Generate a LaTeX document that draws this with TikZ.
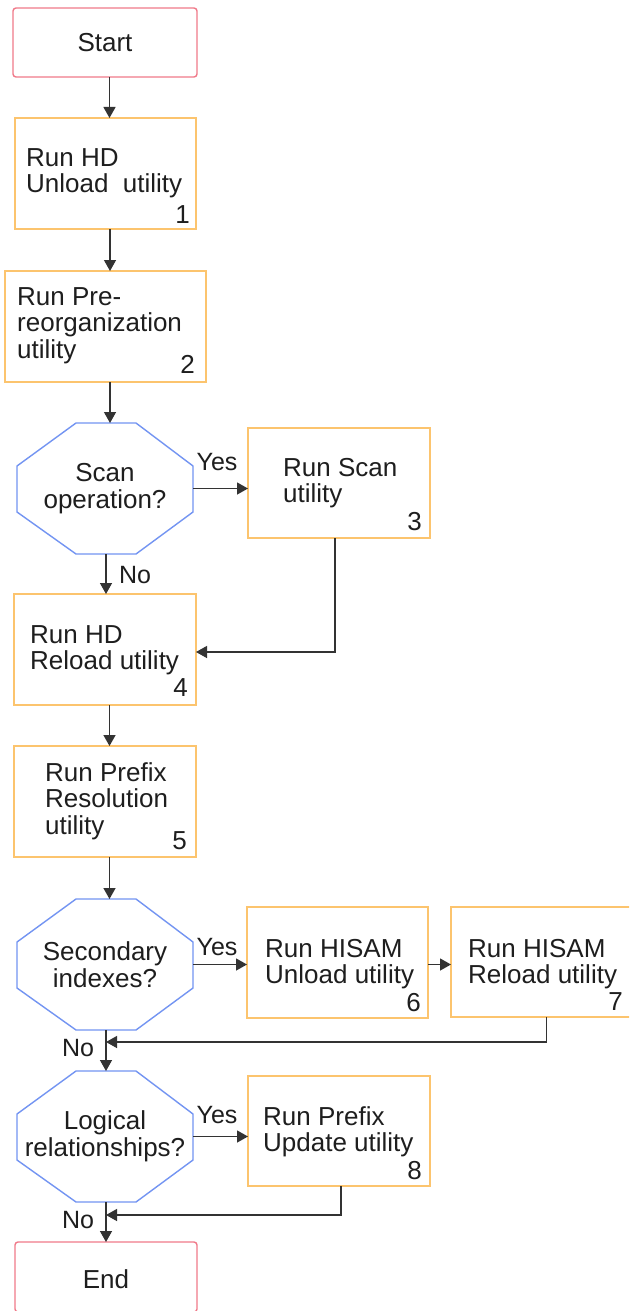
\documentclass[tikz,border=0pt]{standalone}
\usepackage{fontspec}
\setmainfont{Liberation Sans}
\usetikzlibrary{calc,arrows.meta}
\definecolor{termred}{HTML}{F07A8A}
\definecolor{procorange}{HTML}{FCC46E}
\definecolor{decblue}{HTML}{7394F2}
\definecolor{linegray}{HTML}{333333}
\definecolor{txtcol}{HTML}{1E1E1E}
\newcommand{\txtlines}[1]{\begin{tabular}[t]{@{}l@{}}#1\end{tabular}}
\newcommand{\octagonof}[1]{%
  \draw[decline] ($(#1.north west)+(59,0)$) -- ($(#1.north east)+(-57,0)$)
    -- ($(#1.north east)+(0,43)$) -- ($(#1.south east)+(0,-42)$)
    -- ($(#1.south east)+(-57,0)$) -- ($(#1.south west)+(59,0)$)
    -- ($(#1.south west)+(0,-42)$) -- ($(#1.north west)+(0,43)$) -- cycle;}
\begin{document}
\begin{tikzpicture}[x=1pt,y=-1pt,
  every node/.style={font=\fontsize{26}{26.5}\selectfont, text=txtcol},
  term/.style={draw=termred, line width=1.4pt, rounded corners=3pt, inner sep=0pt, outer sep=0pt, anchor=north west},
  proc/.style={draw=procorange, line width=1.4pt, inner sep=0pt, outer sep=0pt, anchor=north west},
  decnode/.style={inner sep=0pt, outer sep=0pt, anchor=north west, minimum width=176pt, minimum height=131pt, align=center},
  decline/.style={draw=decblue, line width=1.4pt},
  txt/.style={anchor=base west, inner sep=0pt},
  num/.style={anchor=base east, inner sep=0pt},
  lbl/.style={inner sep=0pt, font=\fontsize{25}{26}\selectfont},
  conn/.style={draw=linegray, line width=1.3pt, -{Triangle[length=11pt,width=12pt]}},
  plain/.style={draw=linegray, line width=1.3pt}]
\clip (0,0) rectangle (629,1311);
\fill[white] (0,0) rectangle (629,1311);

% terminals
\node[term, minimum width=184pt, minimum height=69pt] (start) at (13,8) {};
\node at (start.center) {Start};
\node[term, minimum width=182pt, minimum height=70pt] (end) at (15,1242) {};
\node at ([yshift=-2pt]end.center) {End};

% process boxes
\node[proc, minimum width=181pt, minimum height=111pt] (b1) at (15,118) {};
\node[txt] at (26,166) {\txtlines{Run HD\\Unload\ \ utility}};
\node[num] at (190,223) {1};

\node[proc, minimum width=201pt, minimum height=111pt] (b2) at (5,271) {};
\node[txt] at (17,305) {\txtlines{Run Pre-\\reorganization\\utility}};
\node[num] at (195,373) {2};

\node[proc, minimum width=182pt, minimum height=110pt] (b3) at (248,428) {};
\node[txt] at (283,476) {\txtlines{Run Scan\\utility}};
\node[num] at (422,530) {3};

\node[proc, minimum width=182pt, minimum height=111pt] (b4) at (14,594) {};
\node[txt] at (30,643) {\txtlines{Run HD\\Reload utility}};
\node[num] at (188,696) {4};

\node[proc, minimum width=182pt, minimum height=111pt] (b5) at (14,746) {};
\node[txt] at (45,781) {\txtlines{Run Prefix\\Resolution\\utility}};
\node[num] at (187,849) {5};

\node[proc, minimum width=181pt, minimum height=111pt] (b6) at (247,907) {};
\node[txt] at (265,957) {\txtlines{Run HISAM\\Unload utility}};
\node[num] at (421,1011) {6};

\node[proc, minimum width=181pt, minimum height=110pt] (b7) at (451,907) {};
\node[txt] at (468,957) {\txtlines{Run HISAM\\Reload utility}};
\node[num] at (623,1010) {7};

\node[proc, minimum width=182pt, minimum height=110pt] (b8) at (248,1076) {};
\node[txt] at (263,1125) {\txtlines{Run Prefix\\Update utility}};
\node[num] at (422,1179) {8};

% decisions
\node[decnode] (scan) at (17,423) {Scan\\operation?};
\octagonof{scan}
\node[decnode] (sec) at (17,899) {Secondary\\indexes?};
\octagonof{sec}
\node[decnode] (log) at (17,1071) {Logical\\relationships?};
\octagonof{log}

% merge points
\coordinate (m1) at (106,1042);
\coordinate (m2) at (106,1215);

% connectors
\draw[conn] ([xshift=4.5pt]start.south) -- ([xshift=4.5pt]start.south |- b1.north);
\draw[conn] ([xshift=4.5pt]b1.south) -- ([xshift=4.5pt]b1.south |- b2.north);
\draw[conn] ([xshift=4.5pt]b2.south) -- ([xshift=4.5pt]b2.south |- scan.north);
\draw[conn] ([xshift=1pt]scan.south) -- ([xshift=1pt]scan.south |- b4.north);
\draw[conn] (scan.east) -- (scan.east -| b3.west);
\draw[conn] ([xshift=-4pt]b3.south) |- ([yshift=-2.5pt]b4.east);
\draw[conn] ([xshift=4.5pt]b4.south) -- ([xshift=4.5pt]b4.south |- b5.north);
\draw[conn] ([xshift=4.5pt]b5.south) -- ([xshift=4.5pt]b5.south |- sec.north);
\draw[conn] (sec.east) -- (sec.east -| b6.west);
\draw[conn] (b6.east |- sec.east) -- (b7.west |- sec.east);
\draw[conn] ([xshift=5pt]b7.south) |- (m1);
\draw[conn] ([xshift=1pt]sec.south) -- ([xshift=1pt]sec.south |- log.north);
\draw[conn] (log.east) -- (log.east -| b8.west);
\draw[conn] ([xshift=2pt]b8.south) |- (m2);
\draw[conn] ([xshift=1pt]log.south) -- ([xshift=1pt]log.south |- end.north);

% labels
\node[lbl] at (217,462) {Yes};
\node[lbl] at (135,575) {No};
\node[lbl] at (217,947) {Yes};
\node[lbl] at (78,1048) {No};
\node[lbl] at (217,1115) {Yes};
\node[lbl] at (78,1220) {No};
\end{tikzpicture}
\end{document}
